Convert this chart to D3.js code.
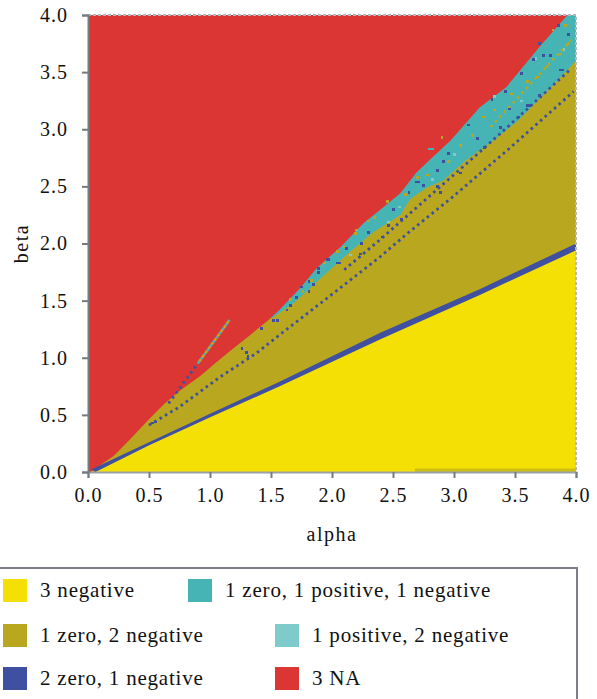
<!DOCTYPE html>
<html>
<head>
<meta charset="utf-8">
<script src="https://cdn.jsdelivr.net/npm/d3@7"></script>
<style>
  body { margin: 0; background: #fff; }
  svg { display: block; font-family: "Liberation Serif", "Times New Roman", serif; }
</style>
</head>
<body>
<div id="chart"></div>
<script>
// categories of the root signs
const categories = ["3 negative", "1 zero, 1 positive, 1 negative", "1 zero, 2 negative",
                    "1 positive, 2 negative", "2 zero, 1 negative", "3 NA"];
const catColors = ["#f4e005", "#46b4b5", "#b9a81f", "#7fcacb", "#3f50a1", "#dc3634"];

const alphaTicks = [0, 0.5, 1.0, 1.5, 2.0, 2.5, 3.0, 3.5, 4.0];
const betaTicks = [0, 0.5, 1.0, 1.5, 2.0, 2.5, 3.0, 3.5, 4.0];

// lower edge of the "3 NA" region, [alpha, beta]
const redEdge = [[0.02,0],[0.21,0.14],[0.34,0.28],[0.48,0.44],[0.62,0.59],[0.75,0.71],
  [0.92,0.84],[1.04,0.95],[1.19,1.08],[1.33,1.20],[1.48,1.33],[1.57,1.42],[1.74,1.61],[1.87,1.78],
  [2.07,1.97],[2.26,2.18],[2.39,2.29],[2.56,2.44],[2.69,2.62],[2.80,2.73],[2.97,2.90],
  [3.21,3.19],[3.43,3.37],[3.70,3.72],[3.93,4.0]];

// lower edge of the "1 zero, 1 positive, 1 negative" band
const tealEdge = [[1.50,1.34],[1.70,1.49],[1.90,1.69],[2.15,1.93],[2.34,2.10],[2.56,2.25],
  [2.64,2.39],[2.78,2.49],[2.91,2.55],[3.10,2.73],[3.32,2.90],[3.52,3.07],[3.79,3.36],[4.0,3.60]];

// "2 zero, 1 negative" band above the yellow region
const bandTop = [[0.03,0.025],[0.5,0.26],[1.0,0.51],[1.57,0.79],[2.4,1.22],[3.21,1.60],[4.0,2.0]];
const bandBottom = [[0.06,0],[0.5,0.235],[1.0,0.48],[1.57,0.75],[2.4,1.165],[3.21,1.55],[4.0,1.94]];

// thin strip along the bottom
const bottomStrip = [2.68, 4.0, 0.03];

// dotted "2 zero" lines
const dotLines = [
  [[0.50,0.41],[0.75,0.57],[1.08,0.83],[1.38,1.04],[1.57,1.20],[1.97,1.53],[2.39,1.88],
   [2.62,2.09],[2.98,2.40],[3.43,2.81],[3.98,3.33]],
  [[2.10,1.77],[2.39,2.03],[3.21,2.80],[3.47,3.05],[3.95,3.52]],
  [[0.66,0.60],[0.90,0.95]]
];

// olive dotted run inside the teal band
const oliveRun = [[3.30,3.02],[3.96,3.78]];

// streak inside the red region
const streak = [[0.90,0.95],[1.16,1.33]];

// isolated cells
const blueSpecks = [[3.855,3.91],[3.94,3.83],[3.79,3.65],[3.55,3.49],[3.42,3.33],[3.31,3.26],
  [3.60,3.21],[3.62,3.21],[3.53,3.11],[3.38,3.02],[3.12,3.04],[3.19,2.92],[3.87,3.52],
  [3.89,3.52],[3.65,3.61],[3.70,3.75],[3.73,3.65],[2.91,2.72],[2.86,2.64],[2.75,2.51],
  [2.69,2.54],[2.71,2.54],[2.63,2.45],[2.57,2.21],[2.46,2.16],[2.41,2.06],[2.24,2.00],
  [2.23,1.91],[2.04,1.83],[2.06,1.83],[1.97,1.86],[1.89,1.78],[2.95,2.79],[2.86,2.50],
  [2.89,2.45],[1.96,1.86],[1.89,1.75],[1.81,1.67],[1.81,1.58],[1.71,1.53],[1.66,1.46],
  [1.63,1.42],[1.55,1.33],[1.52,1.33],[1.42,1.26],[1.26,1.08],[1.30,1.05],[1.31,1.01],
  [0.53,0.43],[0.55,0.44],[3.05,2.62],[3.25,2.84],[3.45,3.18],[3.70,3.30],[2.50,2.30],
  [2.30,2.10],[2.12,1.96],[1.75,1.62],[1.85,1.64]];
const oliveSpecks = [[3.81,3.87],[3.91,3.91],[3.60,3.42],[3.68,3.46],[3.76,3.55],[3.87,3.66],
  [3.94,3.75],[3.24,3.11],[3.47,3.31],[2.90,2.93],[2.78,2.60],[2.64,2.37],[2.45,2.37],
  [2.35,2.23],[2.20,2.12],[2.19,2.09],[2.04,1.93],[1.94,1.83],[1.83,1.68],[1.76,1.58],
  [1.66,1.51],[3.33,3.17],[3.05,2.86],[2.60,2.43],[2.95,2.72],[3.15,2.95],[2.70,2.58],
  [2.30,2.20],[2.10,1.97]];
const paleSpecks = [[3.67,3.62],[3.33,3.29],[2.82,2.56],[2.46,2.19],[2.15,1.90],[3.90,3.70],[3.55,3.25],
  [3.00,2.78],[2.55,2.32]];
const tealSpecks = [[2.80,2.83],[2.82,2.83]];

const x = d3.scaleLinear().domain([0, 4]).range([88, 576]);
const y = d3.scaleLinear().domain([0, 4]).range([472, 15]);

const svg = d3.select("#chart").append("svg")
  .attr("width", 597).attr("height", 699);

svg.append("clipPath").attr("id", "plot-clip")
  .append("rect")
  .attr("x", x(0)).attr("y", y(4))
  .attr("width", x(4) - x(0)).attr("height", y(0) - y(4));

const plot = svg.append("g").attr("clip-path", "url(#plot-clip)");

const line = d3.line().x(d => x(d[0])).y(d => y(d[1]));

// background: 1 zero, 2 negative
plot.append("rect")
  .attr("x", x(0)).attr("y", y(4))
  .attr("width", x(4) - x(0)).attr("height", y(0) - y(4))
  .attr("fill", catColors[2]);

// teal band
const tealPoly = tealEdge.concat([[4, 4], [tealEdge[0][0], 4]]);
plot.append("path").attr("d", line(tealPoly) + "Z").attr("fill", catColors[1]);

// red region
const redPoly = [[0, 4], [0, 0]].concat(redEdge);
plot.append("path").attr("d", line(redPoly) + "Z").attr("fill", catColors[5]);

// yellow region
const yellowPoly = bandBottom.concat([[4, 0]]);
plot.append("path").attr("d", line(yellowPoly) + "Z").attr("fill", catColors[0]);

// blue band
const bandPoly = bandTop.concat(bandBottom.slice().reverse());
plot.append("path").attr("d", line(bandPoly) + "Z").attr("fill", catColors[4]);

plot.append("rect")
  .attr("x", x(bottomStrip[0])).attr("y", y(bottomStrip[2]))
  .attr("width", x(bottomStrip[1]) - x(bottomStrip[0]))
  .attr("height", y(0) - y(bottomStrip[2]))
  .attr("fill", "#cdbd14");

// dotted lines
plot.selectAll(".dots").data(dotLines).enter().append("path")
  .attr("d", line)
  .attr("fill", "none")
  .attr("stroke", catColors[4])
  .attr("stroke-width", 2.8)
  .attr("stroke-dasharray", "2.6 3.6");

plot.append("path").attr("d", line(oliveRun))
  .attr("fill", "none").attr("stroke", catColors[2])
  .attr("stroke-width", 2.4).attr("stroke-dasharray", "2.5 4");

plot.append("path").attr("d", line(streak))
  .attr("fill", "none").attr("stroke", catColors[1])
  .attr("stroke-width", 2.6).attr("stroke-dasharray", "2.6 2.6");
plot.append("path").attr("d", line(streak))
  .attr("fill", "none").attr("stroke", "#c9a326")
  .attr("stroke-width", 2.6).attr("stroke-dasharray", "2.6 2.6")
  .attr("stroke-dashoffset", 2.6);

const cw = x(0.02) - x(0), ch = y(0) - y(0.02);
function specks(data, color) {
  plot.append("g").attr("shape-rendering", "crispEdges")
    .selectAll("rect").data(data).enter().append("rect")
    .attr("x", d => x(d[0]) - cw / 2)
    .attr("y", d => y(d[1]) - ch / 2)
    .attr("width", cw + 0.4).attr("height", ch + 0.4)
    .attr("fill", color);
}
specks(oliveSpecks, catColors[2]);
specks(paleSpecks, catColors[3]);
specks(tealSpecks, catColors[1]);
specks(blueSpecks, catColors[4]);

// frame
svg.append("path")
  .attr("d", `M${x(0)},${y(4)}H${x(4)}V${y(0)}`)
  .attr("fill", "none").attr("stroke", "#b4b8bc")
  .attr("stroke-width", 2).attr("stroke-dasharray", "3 2");

const axisColor = "#737c82";

const xAxis = svg.append("g")
  .attr("transform", `translate(0,${y(0)})`)
  .call(d3.axisBottom(x).tickValues(alphaTicks).tickFormat(d3.format(".1f")).tickSize(6).tickPadding(10));
const yAxis = svg.append("g")
  .attr("transform", `translate(${x(0)},0)`)
  .call(d3.axisLeft(y).tickValues(betaTicks).tickFormat(d3.format(".1f")).tickSize(6).tickPadding(14));

[xAxis, yAxis].forEach(g => {
  g.select(".domain").attr("stroke", axisColor).attr("stroke-width", 2);
  g.selectAll(".tick line").attr("stroke", axisColor).attr("stroke-width", 2);
  g.selectAll(".tick text")
    .attr("fill", "#111")
    .style("font-family", "Liberation Serif, serif")
    .style("font-size", "20px")
    .style("letter-spacing", "1px");
});
xAxis.select(".domain").attr("stroke", "#9ba1a6");

svg.append("text")
  .attr("x", (x(0) + x(4)) / 2).attr("y", 541)
  .attr("text-anchor", "middle")
  .style("font-size", "20px").style("letter-spacing", "1.5px")
  .attr("fill", "#111")
  .text("alpha");

svg.append("text")
  .attr("transform", `translate(28,${(y(0) + y(4)) / 2}) rotate(-90)`)
  .attr("text-anchor", "middle")
  .style("font-size", "20px").style("letter-spacing", "1.5px")
  .attr("fill", "#111")
  .text("beta");

// legend
svg.append("rect")
  .attr("x", -5).attr("y", 568).attr("width", 582).attr("height", 200)
  .attr("fill", "#fff").attr("stroke", "#7a8086").attr("stroke-width", 2);

const legendRows = [590, 635, 678];
const legendCols = [[3, 188], [3, 275], [3, 275]];

const legend = svg.append("g").selectAll("g").data(categories).enter().append("g")
  .attr("transform", (d, i) => {
    const r = Math.floor(i / 2), c = i % 2;
    return `translate(${legendCols[r][c]},${legendRows[r]})`;
  });

legend.append("rect")
  .attr("x", 0).attr("y", -11).attr("width", 24).attr("height", 23)
  .attr("fill", (d, i) => catColors[i]);

legend.append("text")
  .attr("x", 37).attr("y", 7)
  .style("font-size", "21px").style("letter-spacing", "0.8px")
  .attr("fill", "#111")
  .text(d => d);
</script>
</body>
</html>
